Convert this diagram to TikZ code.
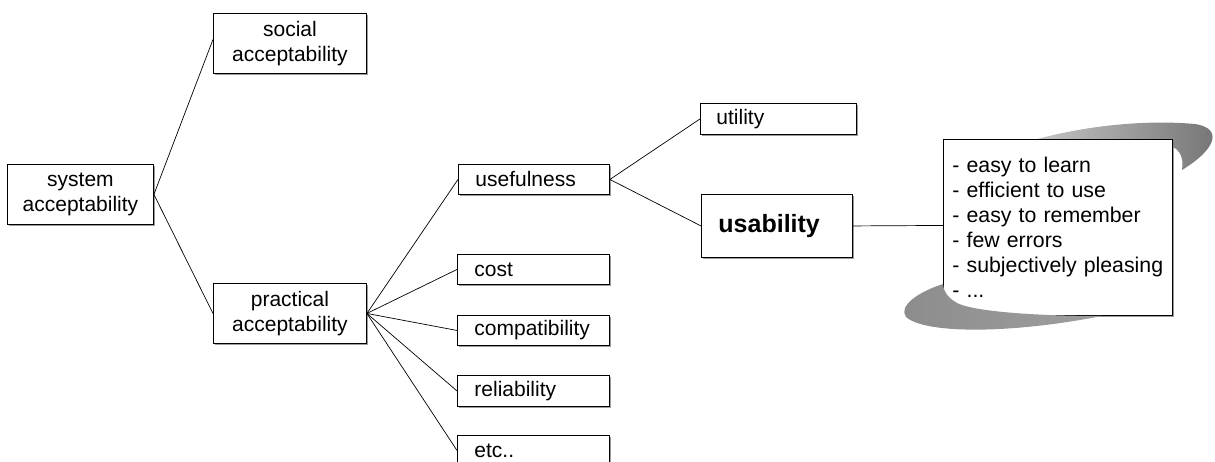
\documentclass[tikz,border=0pt]{standalone}
\usepackage{fontspec}
\setmainfont{Liberation Sans}
\usetikzlibrary{shadows}
\begin{document}
\begin{tikzpicture}[x=1pt,y=-1pt,
  box/.style={draw=black, line width=0.9pt, fill=white, anchor=north west,
    inner ysep=0pt, font=\fontsize{21}{25}\selectfont,
    drop shadow={shadow xshift=1.3pt, shadow yshift=-1.3pt, fill=black!55, opacity=0.7}},
  cbox/.style={box, inner xsep=0pt, align=center},
  lbox/.style={box, inner xsep=17pt, align=left},
  conn/.style={draw=black, line width=0.7pt},
  swoosh/.style={draw=none}]
\useasboundingbox (0,0) rectangle (1215,462);

% top part of the ribbon (behind the list box)
\path[swoosh, left color=black!22, middle color=black!8, right color=black!55]
  (1030,141) .. controls (1090,124) and (1150,120) .. (1195,124)
  .. controls (1222,128) and (1218,148) .. (1182,170)
  .. controls (1184,156) and (1180,146) .. (1160,143) -- cycle;

% boxes
\node[cbox, minimum width=146pt, minimum height=60pt, text width=146pt] (sys) at (7,164) {system\\acceptability};
\node[cbox, minimum width=153pt, minimum height=60pt, text width=153pt] (soc) at (213,13) {social\\acceptability};
\node[cbox, minimum width=153pt, minimum height=60pt, text width=153pt] (prac) at (213,283) {practical\\acceptability};
\node[lbox, minimum height=30pt, text width=117pt] (usef) at (458,164) {usefulness};
\node[lbox, minimum height=30pt, text width=118pt] (cost) at (457,254) {cost};
\node[lbox, minimum height=30pt, text width=118pt] (comp) at (457,315) {compatibility};
\node[lbox, minimum height=31pt, text width=118pt] (rel) at (457,375) {reliability};
\node[lbox, minimum height=30pt, text width=118pt] (etc) at (457,435) {etc..};
\node[lbox, inner xsep=16pt, minimum height=31pt, text width=124pt] (util) at (700,103) {utility};
\node[lbox, minimum height=63pt, text width=117pt, font=\fontsize{25}{30}\selectfont\bfseries] (usab) at (701,194) {usability};
\node[box, inner xsep=9pt, align=left, minimum height=176pt, text width=211pt, font=\fontsize{21.3}{25}\selectfont] (lst) at (943,139)
  {- easy to learn\\- efficient to use\\- easy to remember\\- few errors\\- subjectively pleasing\\- ...};

% bottom part of the ribbon (in front of the list box)
\path[swoosh, left color=black!45, middle color=black!12, right color=black!38]
  (943,284) .. controls (918,292) and (898,306) .. (906,317)
  .. controls (925,334) and (1010,334) .. (1102,316)
  .. controls (1040,316) and (975,312) .. (957,303)
  .. controls (947,297) and (944,292) .. cycle;

% connectors
\draw[conn] (sys.east) -- ([yshift=4pt]soc.west);
\draw[conn] (sys.east) -- (prac.west);
\draw[conn] (prac.east) -- (usef.west);
\draw[conn] (prac.east) -- (cost.west);
\draw[conn] (prac.east) -- (comp.west);
\draw[conn] (prac.east) -- (rel.west);
\draw[conn] (prac.east) -- (etc.west);
\draw[conn] (usef.east) -- (util.west);
\draw[conn] (usef.east) -- (usab.west);
\draw[conn] (usab.east) -- ([yshift=2pt]lst.west);
\end{tikzpicture}
\end{document}
